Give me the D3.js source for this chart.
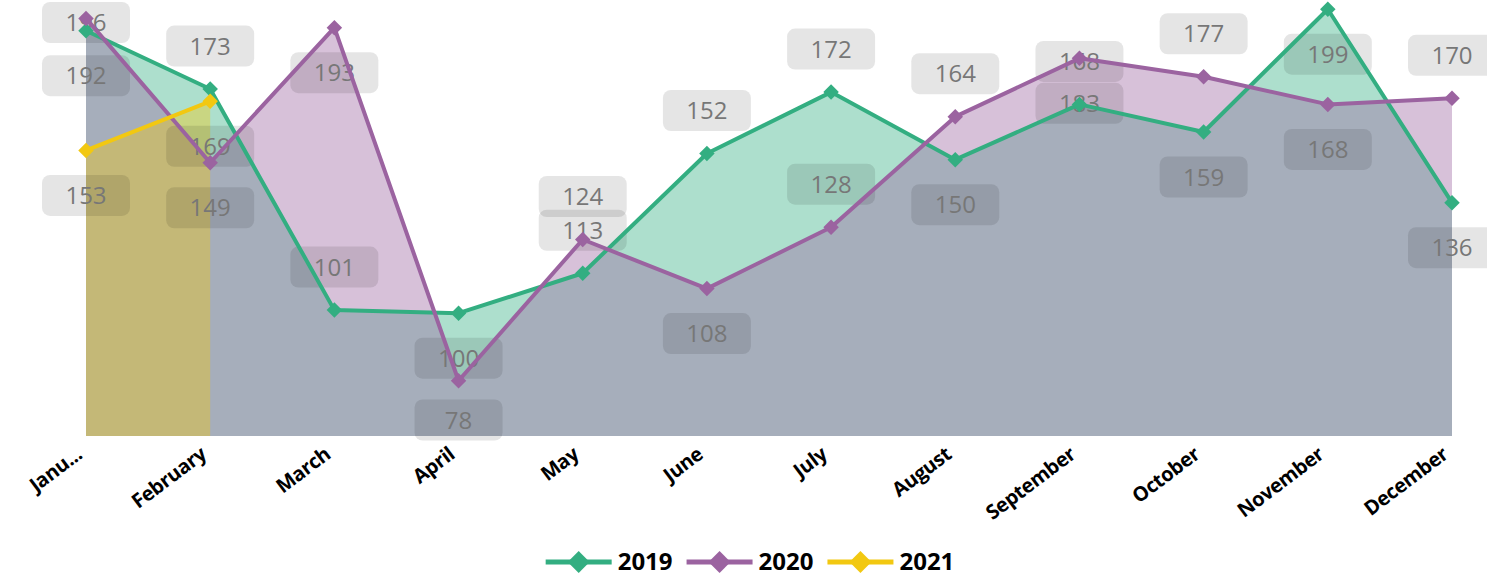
<!DOCTYPE html>
<html>
<head>
<meta charset="utf-8">
<script src="https://cdn.jsdelivr.net/npm/d3@7"></script>
<style>
  html, body { margin: 0; padding: 0; background: #fff; }
  svg { display: block; }
</style>
</head>
<body>
<svg id="chart" width="1487" height="578"></svg>
<script>
// data
const months = ['January', 'February', 'March', 'April', 'May', 'June', 'July',
  'August', 'September', 'October', 'November', 'December']
const tickLabels = ['Janu...', 'February', 'March', 'April', 'May', 'June', 'July',
  'August', 'September', 'October', 'November', 'December']
const years = ['2019', '2020', '2021']
const values2019 = [192, 173, 101, 100, 113, 152, 172, 150, 168, 159, 199, 136]
const values2020 = [196, 149, 193, 78, 124, 108, 128, 164, 183, 177, 168, 170]
const values2021 = [153, 169]
const yDomain = [60, 202]

const colors = ['#33ae81', '#9b63a0', '#f2c811']
const seriesValues = [values2019, values2020, values2021]

// where each data label sits relative to its point: a = above, b = below, t = pinned to top
const labelSide = [
  ['b', 'a', 'a', 'b', 'a', 'a', 'a', 'b', 'a', 'b', 'b', 'b'],
  ['t', 'b', 'b', 'b', 'a', 'b', 'a', 'a', 'b', 'a', 'b', 'a'],
  ['b', 'b']
]

const svg = d3.select('#chart')

const x = d3.scalePoint().domain(months).range([86, 1452])
const y = d3.scaleLinear().domain(yDomain).range([436, 0])

const series = years.map((yr, i) => ({
  name: yr,
  color: colors[i],
  points: seriesValues[i].map((v, j) => ({ month: months[j], value: v, side: labelSide[i][j] }))
}))

const area = d3.area()
  .x((d) => x(d.month))
  .y0(y(yDomain[0]))
  .y1((d) => y(d.value))

const line = d3.line()
  .x((d) => x(d.month))
  .y((d) => y(d.value))

// areas
svg.append('g')
  .selectAll('path')
  .data(series)
  .enter()
  .append('path')
  .attr('d', (s) => area(s.points))
  .attr('fill', (s) => s.color)
  .attr('fill-opacity', 0.4)

// data labels
const labelW = 88, labelH = 41
const labels = svg.append('g')
series.forEach((s) => {
  s.points.forEach((p) => {
    const py = y(p.value)
    let cy
    if (p.side === 'a') cy = py - 43
    else if (p.side === 'b') cy = Math.min(py + 45, 420)
    else cy = 2 + labelH / 2
    const g = labels.append('g').attr('transform', `translate(${x(p.month)},${cy})`)
    g.append('rect')
      .attr('x', -labelW / 2)
      .attr('y', -labelH / 2)
      .attr('width', labelW)
      .attr('height', labelH)
      .attr('rx', 8)
      .attr('fill', '#000')
      .attr('fill-opacity', 0.1)
    g.append('text')
      .attr('text-anchor', 'middle')
      .attr('dy', '0.36em')
      .attr('font-family', '"Open Sans", sans-serif')
      .attr('font-size', 24)
      .attr('fill', '#777')
      .text(p.value)
  })
})

// lines and markers
const diamond = d3.symbol().type(d3.symbolSquare).size(120)
series.forEach((s) => {
  svg.append('path')
    .attr('d', line(s.points))
    .attr('fill', 'none')
    .attr('stroke', s.color)
    .attr('stroke-width', 4)
    .attr('stroke-linejoin', 'round')
  svg.append('g')
    .selectAll('path')
    .data(s.points)
    .enter()
    .append('path')
    .attr('d', diamond)
    .attr('transform', (d) => `translate(${x(d.month)},${y(d.value)}) rotate(45)`)
    .attr('fill', s.color)
})

// x axis labels
const xAxis = d3.axisBottom(x).tickSize(0).tickFormat((d, i) => tickLabels[i])
const gx = svg.append('g')
  .attr('transform', 'translate(0,436)')
  .call(xAxis)
gx.select('.domain').remove()
gx.selectAll('text')
  .attr('font-family', '"Open Sans", sans-serif')
  .attr('font-weight', 700)
  .attr('font-size', 20)
  .attr('letter-spacing', -0.4)
  .attr('fill', '#000')
  .attr('text-anchor', 'end')
  .attr('dy', null)
  .attr('y', null)
  .attr('transform', 'translate(-3,21) rotate(-37)')

// legend
const legend = svg.append('g')
let lx = 0
series.forEach((s) => {
  const it = legend.append('g').attr('transform', `translate(${lx},0)`)
  it.append('line')
    .attr('x1', 0).attr('x2', 66)
    .attr('stroke', s.color)
    .attr('stroke-width', 5)
  it.append('path')
    .attr('d', d3.symbol().type(d3.symbolSquare).size(240)())
    .attr('transform', 'translate(33,0) rotate(45)')
    .attr('fill', s.color)
  const t = it.append('text')
    .attr('x', 72)
    .attr('dy', '0.34em')
    .attr('font-family', '"Open Sans", sans-serif')
    .attr('font-weight', 700)
    .attr('font-size', 24)
    .attr('fill', '#000')
    .text(s.name)
  lx += 72 + t.node().getComputedTextLength() + 14
})
const legendW = lx - 14
legend.attr('transform', `translate(${750 - legendW / 2},562)`)
</script>
</body>
</html>
